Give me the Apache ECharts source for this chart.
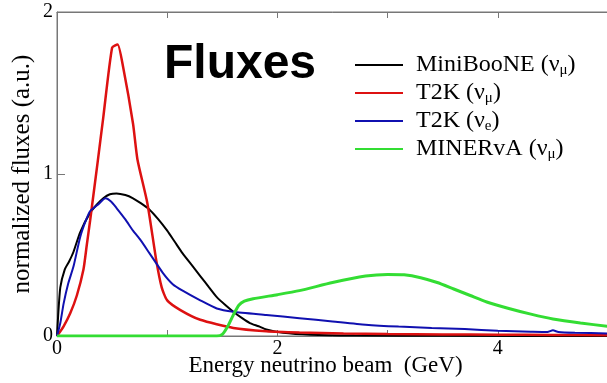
<!DOCTYPE html>
<html><head><meta charset="utf-8">
<script src="https://cdn.jsdelivr.net/npm/echarts@6/dist/echarts.min.js"></script>
<style>html,body{margin:0;padding:0;background:#fff}#c{width:607px;height:383px}</style>
</head><body><div id="c"></div>
<script>
const seriesNames = ['MiniBooNE (νμ)', 'T2K (νμ)', 'T2K (νe)', 'MINERvA (νμ)'];
const xTicks = [0, 1, 2, 3, 4, 5];
const yTicks = [0, 1, 2];
const miniboone = [[0,0],[0.01,0.12],[0.03,0.30],[0.07,0.41],[0.11,0.46],[0.15,0.52],[0.21,0.64],[0.30,0.76],[0.36,0.81],[0.42,0.85],[0.48,0.875],[0.54,0.88],[0.62,0.87],[0.69,0.85],[0.76,0.82],[0.84,0.78],[0.92,0.72],[1.0,0.65],[1.07,0.58],[1.14,0.51],[1.22,0.44],[1.30,0.37],[1.38,0.30],[1.45,0.24],[1.53,0.19],[1.6,0.15],[1.68,0.11],[1.75,0.08],[1.83,0.06],[1.9,0.04],[2.05,0.02],[2.3,0.008],[2.7,0.003],[3.5,0.001],[5,0]];
const t2kMu = [[0,0],[0.06,0.06],[0.12,0.14],[0.18,0.25],[0.24,0.41],[0.27,0.56],[0.30,0.71],[0.37,1.08],[0.42,1.35],[0.50,1.78],[0.55,1.80],[0.60,1.66],[0.69,1.31],[0.73,1.09],[0.82,0.82],[0.90,0.47],[0.95,0.30],[1.0,0.22],[1.12,0.16],[1.30,0.10],[1.6,0.05],[1.9,0.03],[2.2,0.022],[2.6,0.016],[3.0,0.012],[3.5,0.01],[4.0,0.008],[4.5,0.006],[5.0,0.005]];
const t2kE = [[0,0],[0.03,0.08],[0.06,0.20],[0.10,0.32],[0.15,0.43],[0.21,0.61],[0.26,0.71],[0.30,0.77],[0.37,0.81],[0.44,0.85],[0.49,0.83],[0.54,0.79],[0.62,0.72],[0.69,0.65],[0.76,0.59],[0.84,0.51],[0.96,0.39],[1.05,0.32],[1.14,0.28],[1.30,0.22],[1.45,0.17],[1.6,0.15],[1.9,0.13],[2.2,0.11],[2.5,0.09],[2.8,0.07],[3.1,0.058],[3.4,0.05],[3.7,0.043],[4.0,0.032],[4.3,0.027],[4.45,0.025],[4.5,0.035],[4.55,0.025],[4.7,0.02],[5,0.016]];
const minerva = [[0,0],[1.45,0],[1.50,0.01],[1.55,0.06],[1.60,0.13],[1.65,0.19],[1.70,0.215],[1.78,0.23],[2.0,0.255],[2.2,0.28],[2.5,0.33],[2.8,0.37],[3.0,0.38],[3.15,0.378],[3.3,0.36],[3.45,0.33],[3.6,0.29],[3.75,0.25],[3.9,0.21],[4.1,0.17],[4.3,0.135],[4.5,0.105],[4.75,0.08],[5.0,0.06]];

const colors = ['#000000', '#dd1111', '#1010b0', '#33dd33'];
const widths = [2, 2.5, 2, 3];
const datasets = [miniboone, t2kMu, t2kE, minerva];
const richNames = {
  'MiniBooNE (νμ)': '{a|MiniBooNE (ν}{s|μ}{a|)}',
  'T2K (νμ)': '{a|T2K (ν}{s|μ}{a|)}',
  'T2K (νe)': '{a|T2K (ν}{s|e}{a|)}',
  'MINERvA (νμ)': '{a|MINERvA (ν}{s|μ}{a|)}'
};
const serif = '"Liberation Serif", "DejaVu Serif", serif';
const chart = echarts.init(document.getElementById('c'), null, {renderer: 'canvas'});
chart.setOption({
  animation: false,
  backgroundColor: '#fff',
  title: {text: 'Fluxes', left: 164, top: 41, padding: 0, textStyle: {fontFamily: '"Liberation Sans", Arial, sans-serif', fontWeight: 'bold', fontSize: 48, color: '#000'}},
  grid: {left: 57, top: 12, right: -1, bottom: 47, show: true, borderColor: '#777', borderWidth: 1, outerBoundsMode: 'none', containLabel: false},
  legend: {
    orient: 'vertical', left: 355, top: 53, padding: 0, itemWidth: 48, itemHeight: 2, icon: 'rect', itemGap: 3,
    data: seriesNames,
    formatter: n => richNames[n],
    textStyle: {fontFamily: serif, color: '#000', padding: [0,0,0,8],
      rich: {a: {fontFamily: serif, fontSize: 24, color: '#000', lineHeight: 25},
             s: {fontFamily: serif, fontSize: 15, color: '#000', padding: [11,0,0,0]}}}
  },
  xAxis: [{
    type: 'value', min: xTicks[0], max: xTicks[xTicks.length-1], interval: 1,
    name: 'Energy neutrino beam  (GeV)', nameLocation: 'middle', nameGap: 18, nameMoveOverlap: false,
    nameTextStyle: {fontFamily: serif, fontSize: 23, color: '#000', padding: [0,14,0,0]},
    axisLine: {show: true, lineStyle: {color: '#777'}},
    axisTick: {inside: true, length: 6, lineStyle: {color: '#777'}},
    axisLabel: {fontFamily: serif, fontSize: 20, color: '#000', margin: 3, formatter: v => (v % 2 === 0 && v < 5) ? String(v) : ''},
    splitLine: {show: false}
  }, {
    type: 'value', position: 'top', min: xTicks[0], max: xTicks[xTicks.length-1], interval: 1,
    axisLine: {show: true, lineStyle: {color: '#777'}},
    axisTick: {inside: true, length: 6, lineStyle: {color: '#777'}},
    axisLabel: {show: false}, splitLine: {show: false}
  }],
  yAxis: {
    type: 'value', min: yTicks[0], max: yTicks[yTicks.length-1], interval: 1,
    name: 'normalized fluxes (a.u.)', nameLocation: 'middle', nameGap: 22, nameMoveOverlap: false,
    nameTextStyle: {fontFamily: serif, fontSize: 25, color: '#000'},
    axisLine: {show: true, lineStyle: {color: '#777'}},
    axisTick: {inside: true, length: 8, lineStyle: {color: '#777'}},
    axisLabel: {fontFamily: serif, fontSize: 20, color: '#000', margin: 4},
    splitLine: {show: false}
  },
  series: seriesNames.map((n, i) => ({
    name: n, type: 'line', data: datasets[i], showSymbol: false, smooth: 0.2,
    itemStyle: {color: colors[i]}, lineStyle: {color: colors[i], width: widths[i]}, z: 2 + i, clip: true
  }))
});
</script></body></html>
